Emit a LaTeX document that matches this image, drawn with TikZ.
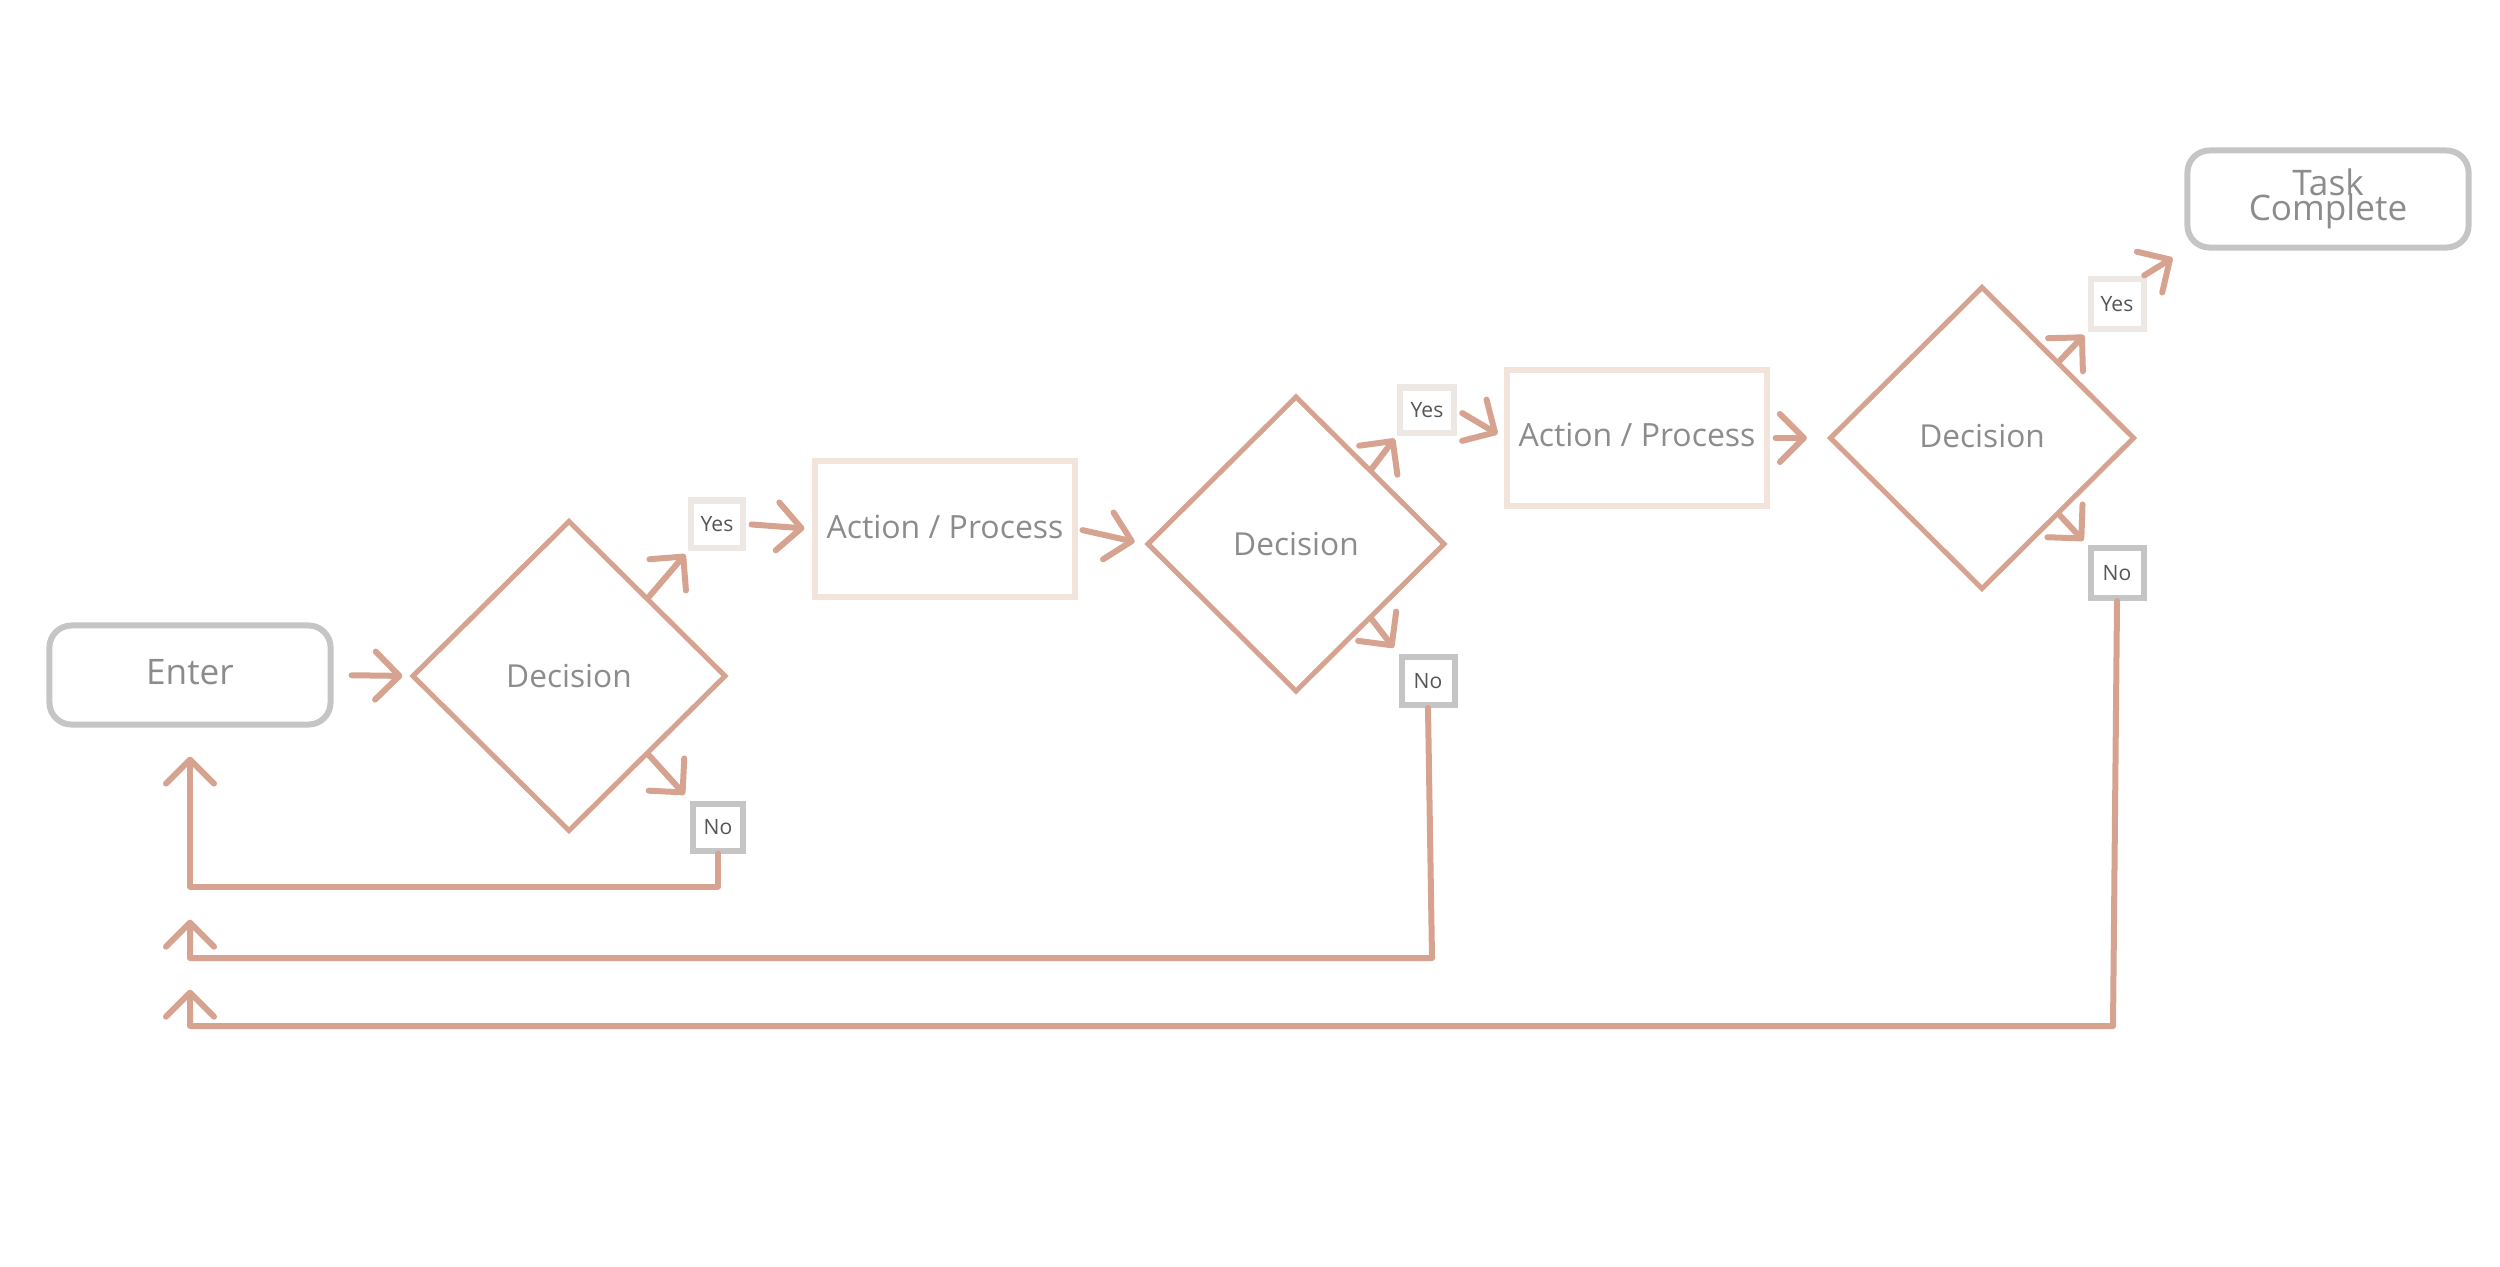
\documentclass[tikz,border=0pt]{standalone}
\usepackage{fontspec}
\setmainfont{Open Sans}
\usetikzlibrary{shapes.geometric,arrows.meta,calc}
\definecolor{salmon}{RGB}{214,163,144}
\definecolor{beige}{RGB}{242,228,218}
\definecolor{yesc}{RGB}{238,232,228}
\definecolor{greyc}{RGB}{197,197,197}
\definecolor{txtc}{RGB}{140,140,140}
\definecolor{smallc}{RGB}{85,85,85}
\tikzset{
  term/.style={draw=greyc, line width=0.06cm, rounded corners=0.22cm, text=txtc,
    font={\fontsize{10}{7.0}\selectfont\lineskiplimit=-20pt\lineskip=0pt}, align=center, inner sep=0pt},
  dec/.style={diamond, draw=salmon, line width=0.05cm, text=txtc,
    font={\fontsize{9}{11}\selectfont}, inner sep=0pt},
  proc/.style={draw=beige, line width=0.06cm, text=txtc,
    font={\fontsize{9.1}{11}\selectfont}, inner sep=0pt},
  yesbox/.style={draw=yesc, line width=0.06cm, text=smallc,
    font={\fontsize{6}{7}\selectfont}, inner sep=0pt},
  nobox/.style={draw=greyc, line width=0.06cm, text=smallc,
    font={\fontsize{6}{7}\selectfont}, inner sep=0pt},
  arr/.style={draw=salmon, line width=0.06cm, line cap=round, line join=round,
    -{Straight Barb[length=0.24cm,width=0.48cm,round]}}
}
\begin{document}
\begin{tikzpicture}[x=0.01cm,y=-0.01cm]
\useasboundingbox (0,0) rectangle (2500,1266);
% nodes
\node[term, minimum width=2.81cm, minimum height=0.99cm] (enter) at (190,675) {\raisebox{0.06cm}{Enter}};
\node[dec, minimum width=3.14cm, minimum height=3.11cm] (d1) at (569,676) {Decision};
\node[yesbox, minimum width=0.51cm, minimum height=0.47cm] (y1) at (717,524) {Yes};
\node[nobox, minimum width=0.50cm, minimum height=0.47cm] (n1) at (718,827) {No};
\node[proc, minimum width=2.59cm, minimum height=1.35cm] (a1) at (945,529) {\raisebox{0.04cm}{Action / Process}};
\node[dec, minimum width=2.98cm, minimum height=2.96cm] (d2) at (1296,544) {Decision};
\node[yesbox, minimum width=0.54cm, minimum height=0.45cm] (y2) at (1427,410) {Yes};
\node[nobox, minimum width=0.53cm, minimum height=0.48cm] (n2) at (1428,681) {No};
\node[proc, minimum width=2.59cm, minimum height=1.36cm] (a2) at (1637,438) {\raisebox{0.07cm}{Action / Process}};
\node[dec, minimum width=3.05cm, minimum height=3.03cm] (d3) at (1982,438) {\raisebox{0.05cm}{Decision}};
\node[yesbox, minimum width=0.53cm, minimum height=0.49cm] (y3) at (2117,304) {Yes};
\node[nobox, minimum width=0.53cm, minimum height=0.50cm] (n3) at (2117,573) {No};
\node[term, minimum width=2.81cm, minimum height=0.97cm] (task) at (2328,199) {Task\\Complete};
% connectors
\draw[arr, shorten <=0.18cm, shorten >=0.07cm] (enter.east) -- (d1.west);
\draw[arr, shorten >=0.05cm] (d1.north east) -- (y1.south west);
\draw[arr, shorten >=0.08cm] (d1.south east) -- (n1.north west);
\draw[arr, shorten <=0.06cm, shorten >=0.08cm] (y1.east) -- (a1.west);
\draw[arr, shorten <=0.05cm, shorten >=0.1cm] (a1.east) -- (d2.west);
\draw[arr, shorten >=0.04cm] (d2.north east) -- (y2.south west);
\draw[arr, shorten >=0.08cm] (d2.south east) -- (n2.north west);
\draw[arr, shorten <=0.06cm, shorten >=0.08cm] (y2.east) -- (a2.west);
\draw[arr, shorten <=0.06cm, shorten >=0.2cm] (a2.east) -- (d3.west);
\draw[arr, shorten >=0.05cm] (d3.north east) -- (y3.south west);
\draw[arr, shorten >=0.06cm] (d3.south east) -- (n3.north west);
\draw[arr, shorten <=0.02cm, shorten >=0.14cm] ($(y3.north east)+(-4,0)$) -- (task.south west);
% feedback loops
\draw[arr, shorten >=0.29cm] (n1.south) -- ++(0,33) -| (enter.south);
\draw[arr, shorten >=1.92cm] (n2.south) -- ++(4,250) -| (enter.south);
\draw[arr, shorten >=2.62cm] (n3.south) -- ++(-4,425) -| (enter.south);
\end{tikzpicture}
\end{document}
